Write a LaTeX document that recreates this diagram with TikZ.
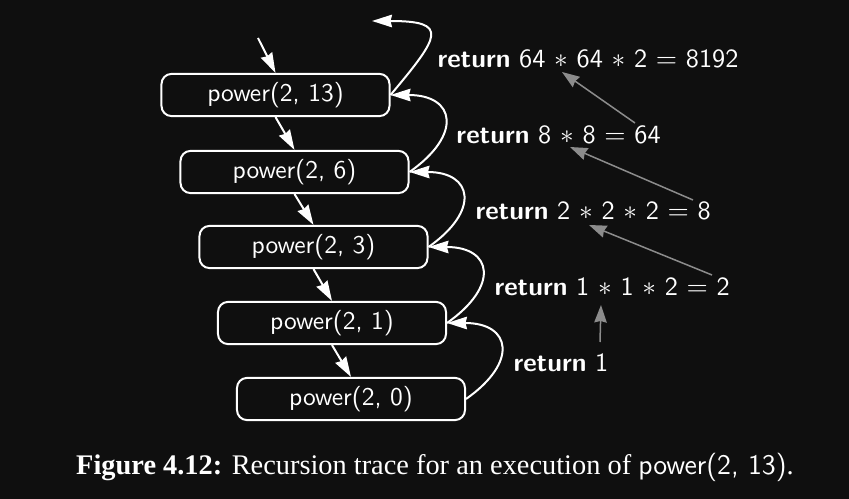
\documentclass[tikz,border=0pt]{standalone}
\usepackage{fontspec}
\setmainfont{Liberation Serif}
\usetikzlibrary{arrows.meta}
\definecolor{pagebg}{HTML}{0F0F0F}
\definecolor{tracegray}{HTML}{8C8C8C}
\tikzset{
  call/.style={draw=white, line width=0.8pt, rounded corners=4pt,
    minimum width=91.2pt, minimum height=15.2pt, text=white,
    font=\fontsize{10.2}{12}\sffamily},
  calls/.style={white, line width=0.8pt, -{Stealth[length=8pt,width=5pt,inset=0.6pt]}},
  returns/.style={white, line width=0.8pt, -{Stealth[length=8pt,width=5pt,inset=0.6pt]}},
  ret/.style={anchor=west, inner sep=0pt, text=white, font=\fontsize{10.5}{12}\sffamily},
  uses/.style={tracegray, line width=0.6pt, -{Stealth[length=7pt,width=5pt,inset=0.6pt]}}
}
\begin{document}
\begin{tikzpicture}[x=0.4pt,y=-0.4pt]
\fill[pagebg] (0,0) rectangle (849,499);
% the calls
\node[call] (p13) at (275.5,95) {power(2, 13)};
\node[call] (p6) at (294.5,172) {power(2, 6)};
\node[call] (p3) at (313.5,247) {power(2, 3)};
\node[call] (p1) at (332,323) {power(2, 1)};
\node[call] (p0) at (351,399) {power(2, 0)};
\coordinate (start) at (258,38);
\coordinate (done) at (372,21);
\draw[calls] (start) -- (p13.north);
\draw[calls] (p13.south) -- (p6.north);
\draw[calls] (p6.south) -- (p3.north);
\draw[calls] (p3.south) -- (p1.north);
\draw[calls] (p1.south) -- (p0.north);
% the returns
\draw[returns] (p13.east) to[out=50,in=0,looseness=2.6] (done);
\draw[returns] (p6.east) to[out=35,in=0,looseness=2.1] (p13.east);
\draw[returns] (p3.east) to[out=35,in=0,looseness=2.1] (p6.east);
\draw[returns] (p1.east) to[out=35,in=0,looseness=2.1] (p3.east);
\draw[returns] (p0.east) to[out=35,in=0,looseness=2.1] (p1.east);
\node[ret] (r13) at (437,59) {\textbf{return} 64 $\ast$ 64 $\ast$ 2 $=$ 8192};
\node[ret] (r6) at (456,135) {\textbf{return} 8 $\ast$ 8 $=$ 64};
\node[ret] (r3) at (475,211) {\textbf{return} 2 $\ast$ 2 $\ast$ 2 $=$ 8};
\node[ret] (r1) at (494,287) {\textbf{return} 1 $\ast$ 1 $\ast$ 2 $=$ 2};
\node[ret] (r0) at (513,363) {\textbf{return} 1};
% values passed up
\coordinate (v6) at (635,123);
\coordinate (u13) at (562,72);
\coordinate (v3) at (693,200);
\coordinate (u6) at (570,147);
\coordinate (v1) at (712,275);
\coordinate (u3) at (589,225);
\coordinate (v0) at (600,342);
\coordinate (u1) at (601,305);
\draw[uses] (v6) -- (u13);
\draw[uses] (v3) -- (u6);
\draw[uses] (v1) -- (u3);
\draw[uses] (v0) -- (u1);
\node[text=white, font=\fontsize{11.35}{14}\selectfont] (caption) at (435,467)
  {\textbf{Figure 4.12:} Recursion trace for an execution of \textsf{power(2, 13)}.};
\end{tikzpicture}
\end{document}
